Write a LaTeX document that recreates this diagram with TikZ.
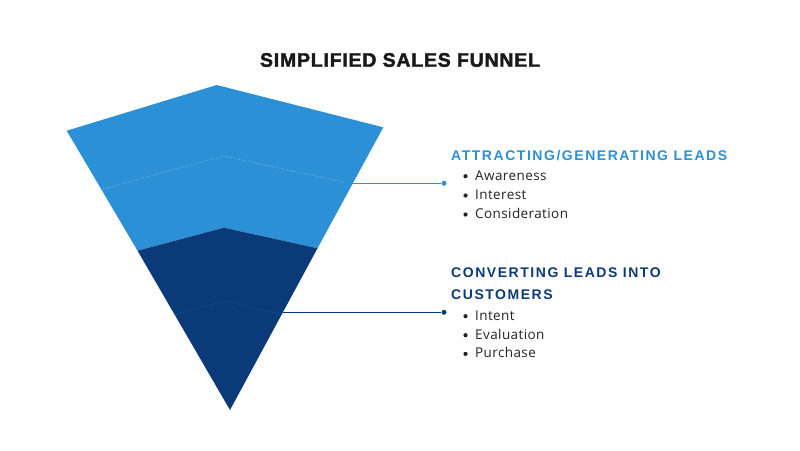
\documentclass[tikz,border=0pt]{standalone}
\usepackage{fontspec}
\setmainfont{Open Sans}
\newfontfamily\titlefont[LetterSpace=4,BoldFeatures={FakeBold=2}]{Liberation Sans}
\newfontfamily\headfont[LetterSpace=11]{Liberation Sans}
\newfontfamily\bodyfont[LetterSpace=3]{Open Sans}
\definecolor{lightblue}{HTML}{2B90D5}
\definecolor{darkblue}{HTML}{0B3A78}
\definecolor{bodygray}{HTML}{222222}
\tikzset{
  headtext/.style={anchor=base west, inner sep=0pt, font=\headfont\bfseries\fontsize{14}{21.5}\selectfont, align=left},
  bodytext/.style={anchor=base west, inner sep=0pt, font=\bodyfont\fontsize{13.5}{19}\selectfont, text=bodygray},
  bulletdot/.style={circle, fill=bodygray, inner sep=0pt, minimum size=4.2pt},
  enddot/.style={circle, inner sep=0pt, minimum size=5pt},
  conn/.style={line width=1pt},
}
\begin{document}
\begin{tikzpicture}[x=1pt,y=-1pt]
\useasboundingbox (0,0) rectangle (800,450);
% title
\node[anchor=base, inner sep=0pt, font=\titlefont\bfseries\fontsize{19.5}{22}\selectfont, text=black!90] (title) at (400,66.7) {SIMPLIFIED SALES FUNNEL};
% funnel
\fill[lightblue] (216.7,85) -- (383.3,127.3) -- (317.5,248.3) -- (224,227.7) -- (137.5,250.7) -- (66.7,130.7) -- cycle;
\fill[darkblue] (137.5,250.7) -- (224,227.7) -- (317.5,248.3) -- (230,410) -- cycle;
\draw[white!75!lightblue, line width=0.6pt, dotted] (103.3,189) -- (223.3,156) -- (345,182.3);
\draw[darkblue!80!lightblue, line width=0.6pt] (175,314.3) -- (224.3,301) -- (281.7,314.3);
% connectors
\coordinate (e1) at (352,183.3);
\coordinate (e2) at (283.3,312.3);
\node[enddot, fill=lightblue] (d1) at (444,183.3) {};
\node[enddot, fill=darkblue] (d2) at (444,312.3) {};
\draw[conn, lightblue] (e1) -- (d1);
\draw[conn, darkblue] (e2) -- (d2);
% group 1
\node[headtext, text=lightblue] (h1) at (451,160) {ATTRACTING/GENERATING LEADS};
\node[bulletdot] (b1) at (465.5,176.2) {};
\node[bodytext] (t1) at (475,180) {Awareness};
\node[bulletdot] (b2) at (465.5,195.5) {};
\node[bodytext] (t2) at (475,199.3) {Interest};
\node[bulletdot] (b3) at (465.5,214.5) {};
\node[bodytext] (t3) at (475,218.3) {Consideration};
% group 2
\node[headtext, text=darkblue] (h2a) at (451,277.7) {CONVERTING LEADS INTO};
\node[headtext, text=darkblue] (h2b) at (451,299) {CUSTOMERS};
\node[bulletdot] (b4) at (465.5,316.2) {};
\node[bodytext] (t4) at (475,320) {Intent};
\node[bulletdot] (b5) at (465.5,335.2) {};
\node[bodytext] (t5) at (475,339) {Evaluation};
\node[bulletdot] (b6) at (465.5,353.9) {};
\node[bodytext] (t6) at (475,357.7) {Purchase};
\end{tikzpicture}
\end{document}
